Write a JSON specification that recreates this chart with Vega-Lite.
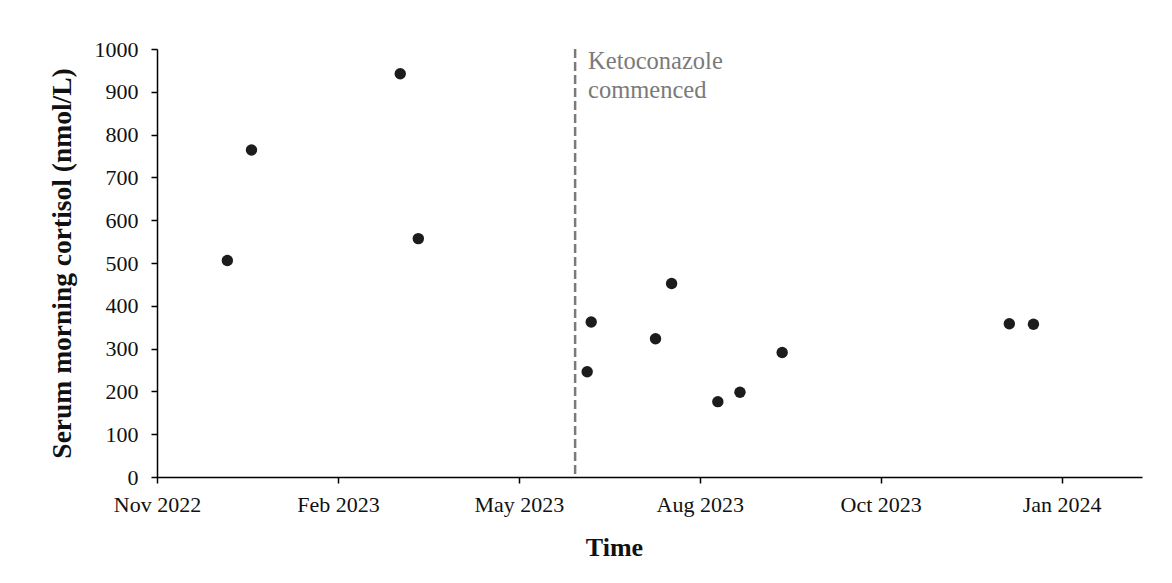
{
  "$schema": "https://vega.github.io/schema/vega-lite/v6.json",
  "autosize": {"type": "none"},
  "width": 985,
  "height": 428,
  "padding": {"left": 157, "top": 49, "right": 30, "bottom": 106},
  "background": "white",
  "config": {
    "view": {"stroke": null},
    "font": "Liberation Serif",
    "axis": {"grid": false, "domainColor": "black", "tickColor": "black", "domainWidth": 1.5, "tickWidth": 1.5, "tickSize": 6, "labelColor": "#111", "titleColor": "#111", "labelFont": "Liberation Serif", "titleFont": "Liberation Serif", "labelFontSize": 22, "titleFontSize": 26, "titleFontWeight": "bold"}
  },
  "layer": [
    {
      "data": {"values": [
        {"date": "2022-12-09", "cortisol": 506},
        {"date": "2022-12-21", "cortisol": 764},
        {"date": "2023-03-05", "cortisol": 942},
        {"date": "2023-03-14", "cortisol": 557},
        {"date": "2023-06-06", "cortisol": 246},
        {"date": "2023-06-08", "cortisol": 362},
        {"date": "2023-07-10", "cortisol": 323},
        {"date": "2023-07-18", "cortisol": 452},
        {"date": "2023-08-10", "cortisol": 176},
        {"date": "2023-08-21", "cortisol": 198},
        {"date": "2023-09-11", "cortisol": 291},
        {"date": "2024-01-02", "cortisol": 358},
        {"date": "2024-01-14", "cortisol": 357}
      ]},
      "mark": {"type": "point", "filled": true, "shape": "circle", "size": 130, "color": "#1c1c1c", "opacity": 1},
      "encoding": {
        "x": {"field": "date", "type": "temporal",
          "scale": {"type": "utc", "domain": [{"year": 2022, "month": 11, "date": 4, "utc": true}, {"year": 2024, "month": 3, "date": 8, "utc": true}], "nice": false},
          "axis": {
            "title": "Time",
            "values": [
              {"year": 2022, "month": 11, "date": 4, "utc": true},
              {"year": 2023, "month": 2, "date": 2, "utc": true},
              {"year": 2023, "month": 5, "date": 3, "utc": true},
              {"year": 2023, "month": 8, "date": 1, "utc": true},
              {"year": 2023, "month": 10, "date": 30, "utc": true},
              {"year": 2024, "month": 1, "date": 28, "utc": true}
            ],
            "labelExpr": "utcFormat(datum.value, '%b %Y')",
            "labelPadding": 11,
            "labelFlush": false,
            "labelOverlap": false,
            "titleFontSize": 26,
            "titleX": 457,
            "titleY": 78,
            "titleAnchor": null,
            "titleAlign": "center",
            "titleBaseline": "alphabetic"
          }
        },
        "y": {"field": "cortisol", "type": "quantitative",
          "scale": {"domain": [0, 1000], "nice": false},
          "axis": {
            "title": "Serum morning cortisol (nmol/L)",
            "values": [0, 100, 200, 300, 400, 500, 600, 700, 800, 900, 1000],
            "format": "d",
            "labelPadding": 13,
            "titleFontSize": 27.5,
            "titleX": -95,
            "titleY": 214,
            "titleAngle": -90,
            "titleAlign": "center",
            "titleBaseline": "middle"
          }
        }
      }
    },
    {
      "data": {"values": [{"date": "2023-05-31", "label": ["Ketoconazole", "commenced"]}]},
      "layer": [
        {
          "mark": {"type": "rule", "color": "#7a7a7a", "strokeWidth": 2.5, "strokeDash": [9, 4]},
          "encoding": {
            "x": {"field": "date", "type": "temporal"},
            "y": {"datum": 1000},
            "y2": {"datum": 0}
          }
        },
        {
          "mark": {"type": "text", "align": "left", "baseline": "top", "dx": 13, "dy": 1, "fontSize": 24.5, "lineHeight": 29, "color": "#7a7a7a", "font": "Liberation Serif"},
          "encoding": {
            "x": {"field": "date", "type": "temporal"},
            "y": {"datum": 1000},
            "text": {"field": "label"}
          }
        }
      ]
    }
  ]
}
